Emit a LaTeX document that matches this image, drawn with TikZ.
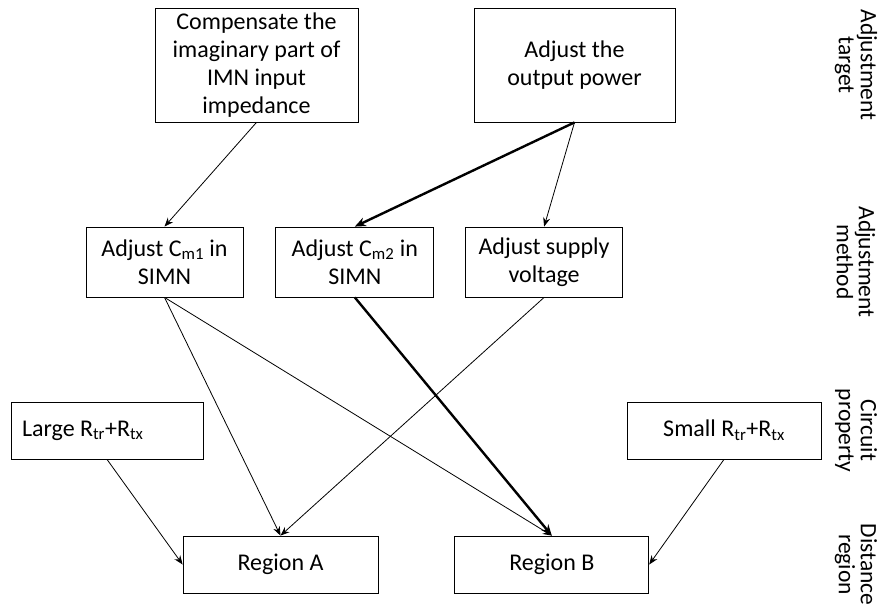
\documentclass[tikz,border=0pt]{standalone}
\usepackage{fontspec}
\setmainfont{Carlito}
\usetikzlibrary{positioning,arrows.meta}

\begin{document}
\begin{tikzpicture}[x=1pt,y=-1pt,
  box/.style={draw, line width=0.8pt, align=center, inner sep=0pt, font=\fontsize{24}{28}\selectfont},
  link/.style={-{Stealth[length=9pt,width=7pt]}, line width=0.8pt},
  mainlink/.style={-{Stealth[length=11pt,width=9pt]}, line width=2.4pt},
  rowname/.style={rotate=-90, align=center, font=\fontsize{23.5}{22}\selectfont}]
 \useasboundingbox (0,0) rectangle (885,612);

 %Targets
 \node (compensate) [box, minimum width=203pt, minimum height=114pt] at (256.5,65) {Compensate the\\imaginary part of\\IMN input\\impedance};
 \node (power) [box, minimum width=201pt, minimum height=114pt] at (574.5,65) {Adjust the\\output power};

 %Methods
 \node (cmone) [box, minimum width=157pt, minimum height=70pt] at (164.5,262) {Adjust C\textsubscript{m1} in\\SIMN};
 \node (cmtwo) [box, minimum width=158pt, minimum height=70pt, right=32pt of cmone] {Adjust C\textsubscript{m2} in\\SIMN};
 \node (supply) [box, minimum width=157pt, minimum height=70pt, right=31pt of cmtwo] {Adjust supply\\voltage};

 %Properties
 \node (large) [box, minimum width=192pt, minimum height=57pt, text width=170pt, align=flush left] at (107,430.5) {Large R\textsubscript{tr}+R\textsubscript{tx}};
 \node (small) [box, minimum width=194pt, minimum height=57pt] at (724,430.5) {Small R\textsubscript{tr}+R\textsubscript{tx}};

 %Regions
 \node (regionA) [box, minimum width=195pt, minimum height=57pt] at (280.5,564.5) {Region A};
 \node (regionB) [box, minimum width=194pt, minimum height=57pt, right=76pt of regionA] {Region B};

 %Row names
 \foreach \y/\first/\second/\tag in {65/Adjustment/target/target, 262/Adjustment/method/method, 430.5/Circuit/property/property, 564.5/Distance/region/distance}
  \node (\tag) [rowname] at (856,\y) {\first\\\second};

 %Arrows
 \draw[link] (compensate.south) -- (cmone.north);
 \draw[mainlink] (power.south) -- (cmtwo.north);
 \draw[link] (power.south) -- (supply.north);
 \draw[link] (cmone.south) -- (regionA.north);
 \draw[link] (cmone.south) -- (regionB.north);
 \draw[mainlink] (cmtwo.south) -- (regionB.north);
 \draw[link] (supply.south) -- (regionA.north);
 \draw[link] (large.south) -- (regionA.west);
 \draw[link] (small.south) -- (regionB.east);

\end{tikzpicture}
\end{document}
